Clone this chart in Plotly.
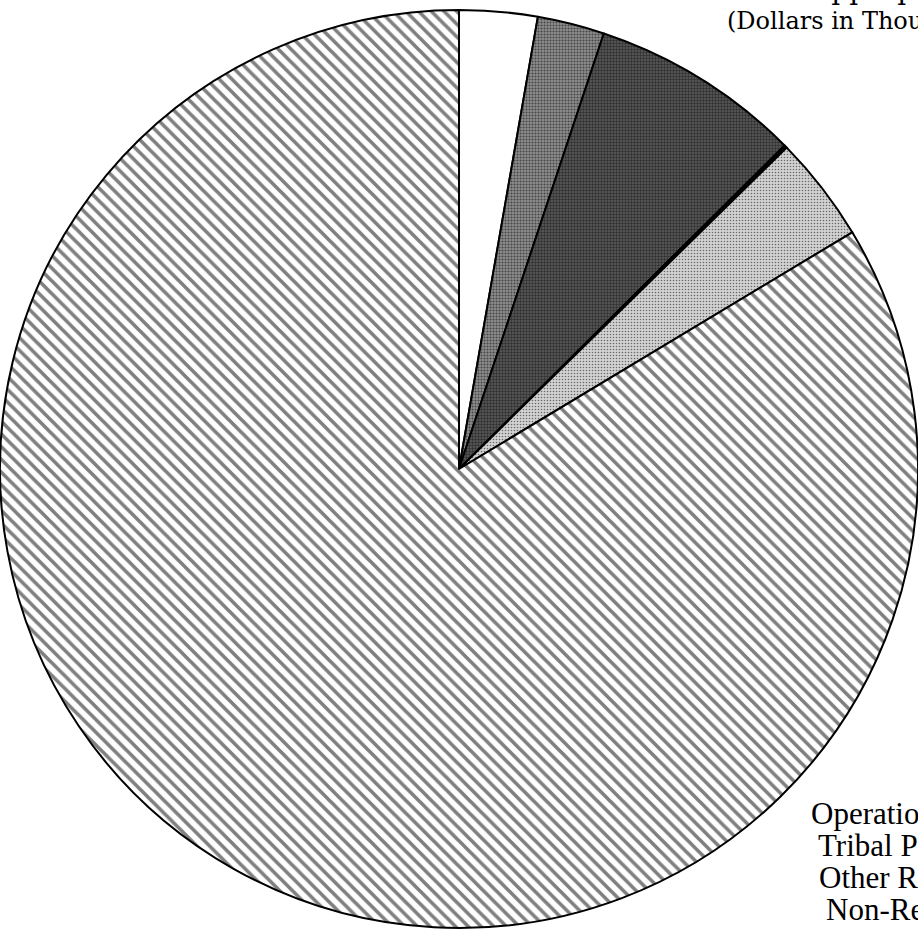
import plotly.graph_objects as go

# Slice data (dollars in thousands), clockwise from 12 o'clock
slice_names = [
    "Construction",
    "Indian Land and Water Claim Settlements",
    "Other Programs",
    "Indian Guaranteed Loan Program",
    "Miscellaneous Permanent / Other",
    "Operation of Indian Programs",
]
slice_values = [48100, 41300, 130200, 1900, 65100, 1463400]
slice_colors = ["white", "#8e8e8e", "#5e5e5e", "black", "#d2d2d2", "white"]
pattern_shapes = ["", ".", ".", "", ".", "\\"]
pattern_sizes = [6, 3, 3, 6, 3, 9]
pattern_solidity = [0.3, 0.4, 0.5, 0.3, 0.22, 0.4]

title_line1 = "Appropriations"
title_line2 = "(Dollars in Thousands)"
label_lines = [
    "Operation of Indian Programs",
    "Tribal Priority Allocations",
    "Other Recurring Programs",
    "Non-Recurring Programs",
]

W, H = 918, 938

fig = go.Figure(
    go.Pie(
        labels=slice_names,
        values=slice_values,
        sort=False,
        direction="clockwise",
        rotation=0,
        textinfo="none",
        hoverinfo="label+value+percent",
        domain=dict(x=[0, 1], y=[0, 1]),
        marker=dict(
            colors=slice_colors,
            line=dict(color="black", width=2),
            pattern=dict(
                shape=pattern_shapes,
                fgcolor="black",
                size=pattern_sizes,
                solidity=pattern_solidity,
                fillmode="overlay",
            ),
        ),
    )
)


def px_x(x):
    return x / W


def px_y(y):
    return 1 - y / H


annotations = []
# Title (mostly cut off at the top of the page)
annotations.append(dict(
    text=title_line1, x=px_x(808), y=px_y(7.6), xref="paper", yref="paper",
    xanchor="left", yanchor="bottom", showarrow=False,
    font=dict(family="DejaVu Serif", size=28, color="black"),
))
annotations.append(dict(
    text=title_line2, x=px_x(725), y=px_y(37), xref="paper", yref="paper",
    xanchor="left", yanchor="bottom", showarrow=False,
    font=dict(family="DejaVu Serif", size=24, color="black"),
))

baselines = [825, 857, 889, 921]
lefts = [809, 816, 817, 824]
for line, b, lx in zip(label_lines, baselines, lefts):
    annotations.append(dict(
        text=line, x=px_x(lx), y=px_y(b + 7.7), xref="paper", yref="paper",
        xanchor="left", yanchor="bottom", showarrow=False,
        font=dict(family="Liberation Serif", size=31, color="black"),
    ))

fig.update_layout(
    width=W,
    height=H,
    margin=dict(l=0, r=0, t=0, b=0),
    showlegend=False,
    paper_bgcolor="white",
    plot_bgcolor="white",
    annotations=annotations,
)

fig.write_html("out.html")
